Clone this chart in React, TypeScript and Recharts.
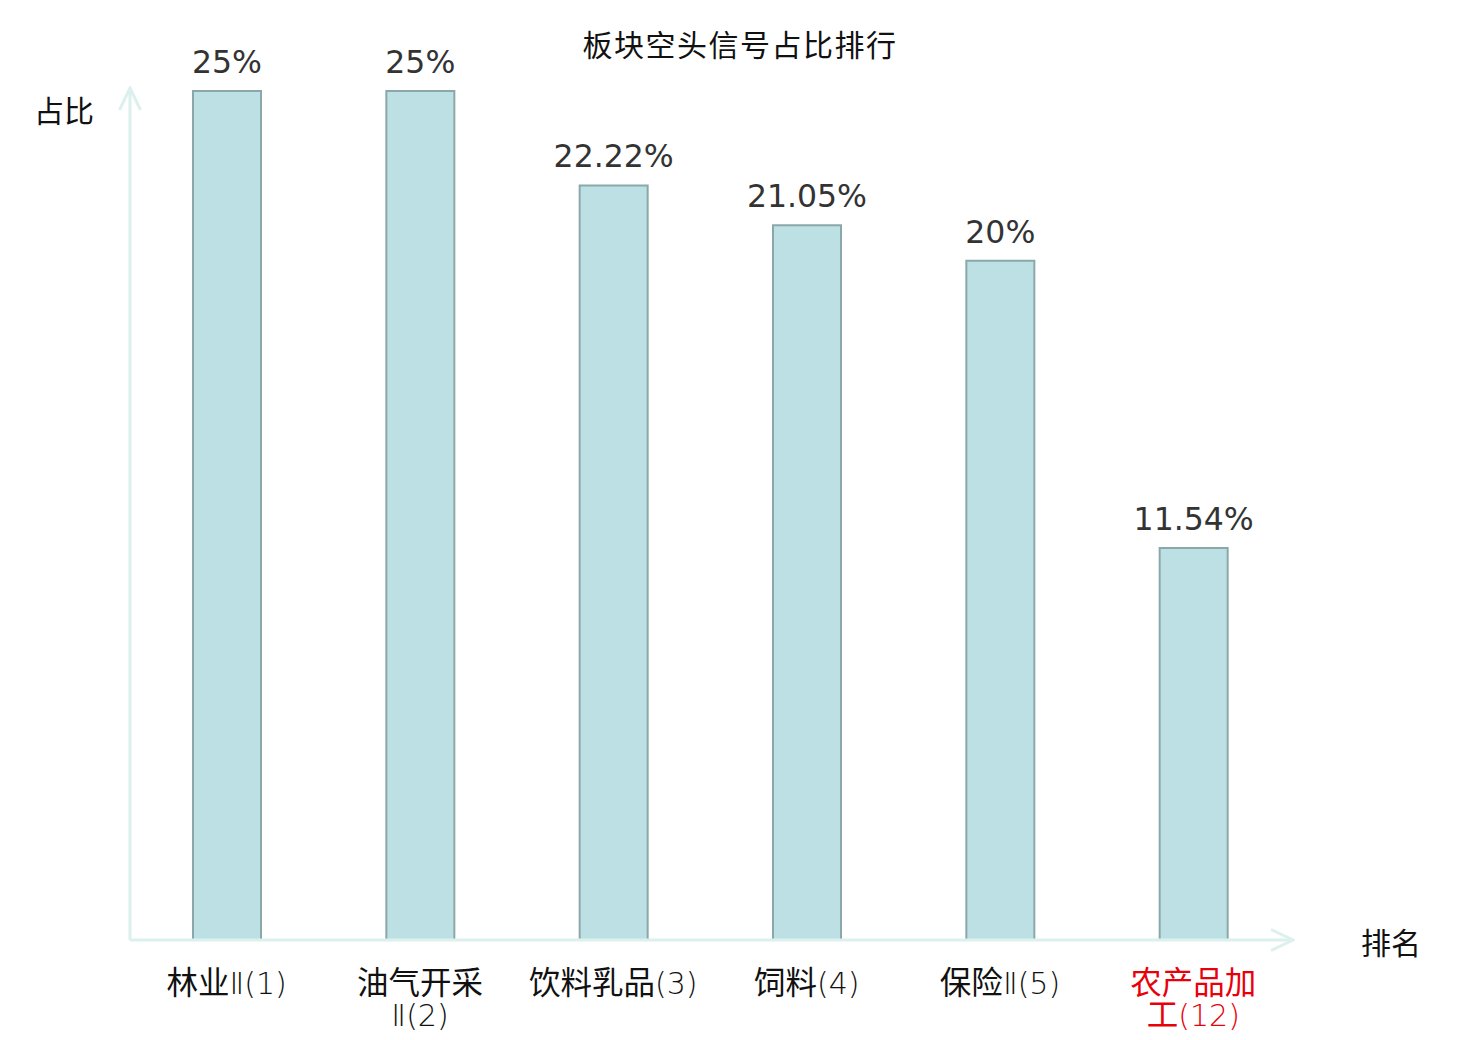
import React from 'react'
import { BarChart, Bar, XAxis, YAxis, LabelList } from 'recharts'

// sector names, their rank, and share of short signals (%)
const sectors = ['林业Ⅱ', '油气开采Ⅱ', '饮料乳品', '饲料', '保险Ⅱ', '农产品加工']
const ranks = [1, 2, 3, 4, 5, 12]
const shares = [25, 25, 22.22, 21.05, 20, 11.54]
const highlightRank = 12

const CJK = '"Noto Sans CJK SC", "Noto Sans", sans-serif'
const LATIN = '"DejaVu Sans", sans-serif'
const axisColor = '#dcf1ee'

const chartData = sectors.map((name, i) => ({
  name,
  rank: ranks[i],
  share: shares[i]
}))

// CJK runs in the CJK font, everything else (Ⅱ, brackets, digits) in thin DejaVu
function runs(text: string, key: string) {
  return text
    .split(/([\u4e00-\u9fff]+)/)
    .filter((s) => s.length > 0)
    .map((s, i) =>
      /[\u4e00-\u9fff]/.test(s) ? (
        <tspan key={key + i} fontSize={31.5}>{s}</tspan>
      ) : (
        <tspan key={key + i} fontFamily={LATIN} fontWeight={200}>
          {s}
        </tspan>
      )
    )
}

function SectorTick(props: any) {
  const { x, y, payload, index } = props
  const row = chartData[index] || chartData.find((d) => d.name === payload.value)
  const name: string = row ? row.name : payload.value
  const rank = row ? row.rank : ''
  const color = rank === highlightRank ? '#e8000b' : '#111'

  // wrap after four characters, like the source chart
  const lines =
    name.length > 4 ? [name.slice(0, 4), `${name.slice(4)}(${rank})`] : [`${name}(${rank})`]

  return (
    <text x={x} y={y} textAnchor="middle" fontFamily={CJK} fontSize={30} fill={color}>
      {lines.map((line, i) => (
        <tspan key={i} x={x} y={y + 54 + i * 32}>
          {runs(line, `l${i}-`)}
        </tspan>
      ))}
    </text>
  )
}

export default function App() {
  return (
    <div style={{ position: 'absolute', left: 0, top: 0, width: 1480, height: 1040, background: '#fff' }}>
      <svg width={0} height={0} style={{ position: 'absolute' }}>
        <defs>
          <marker
            id="axisArrow"
            viewBox="-26 -14 28 28"
            refX={-3}
            refY={0}
            markerWidth={28}
            markerHeight={28}
            markerUnits="userSpaceOnUse"
            orient="auto-start-reverse"
          >
            <path d="M-22,-10.5 L0,0 L-22,10.5" fill="none" stroke={axisColor} strokeWidth={3} />
          </marker>
        </defs>
      </svg>

      <div
        style={{
          position: 'absolute',
          left: 0,
          width: 1480,
          top: 28,
          textAlign: 'center',
          fontFamily: CJK,
          fontSize: 30,
          lineHeight: '30px',
          letterSpacing: 1.5,
          color: '#111'
        }}
      >
        板块空头信号占比排行
      </div>
      <div
        style={{
          position: 'absolute',
          left: 34,
          top: 94,
          fontFamily: CJK,
          fontSize: 30,
          lineHeight: '30px',
          color: '#111'
        }}
      >
        占比
      </div>
      <div
        style={{
          position: 'absolute',
          left: 1361,
          top: 926,
          fontFamily: CJK,
          fontSize: 30,
          lineHeight: '30px',
          color: '#111'
        }}
      >
        排名
      </div>

      <BarChart
        width={1480}
        height={1040}
        data={chartData}
        margin={{ top: 91, right: 190, bottom: 0, left: 0 }}
      >
        <XAxis
          dataKey="name"
          height={100}
          tickLine={false}
          tickSize={0}
          tickMargin={0}
          interval={0}
          axisLine={{ stroke: axisColor, strokeWidth: 3, markerEnd: 'url(#axisArrow)' }}
          tick={<SectorTick />}
        />
        <YAxis
          width={130}
          domain={[0, 25]}
          tick={false}
          tickLine={false}
          axisLine={{ stroke: axisColor, strokeWidth: 3, markerStart: 'url(#axisArrow)' }}
        />
        <Bar
          dataKey="share"
          barSize={68}
          fill="#bce0e3"
          stroke="#8aa8a9"
          strokeWidth={2}
          isAnimationActive={false}
        >
          <LabelList
            dataKey="share"
            position="top"
            offset={18}
            fill="#333"
            fontSize={31.5}
            fontFamily={LATIN}
            formatter={(v: any) => `${v}%`}
          />
        </Bar>
      </BarChart>
    </div>
  )
}
